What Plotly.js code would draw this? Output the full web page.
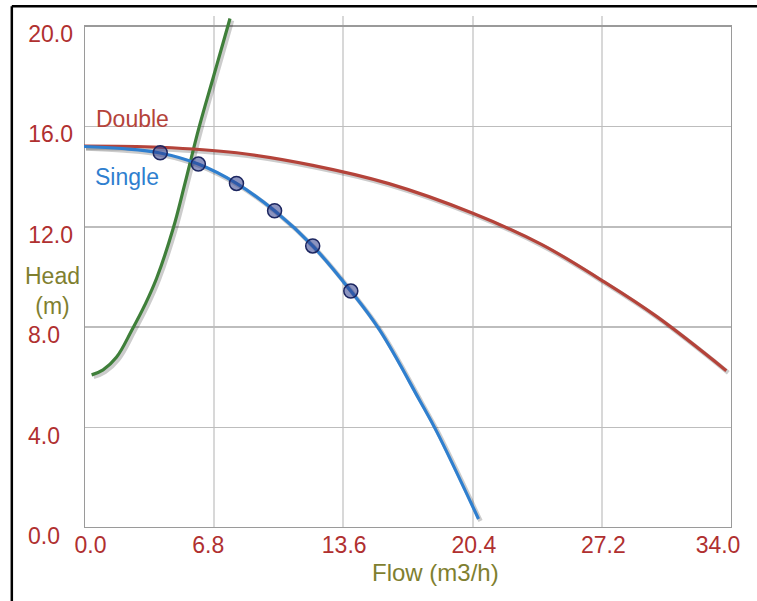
<!DOCTYPE html>
<html><head><meta charset="utf-8">
<script src="https://cdn.plot.ly/plotly-3.0.1.min.js"></script>
<style>html,body{margin:0;padding:0;background:#fff;}#chart{width:757px;height:601px;}</style>
</head><body><div id="chart"></div>
<script>
// Tick labels
const xTickVals = [0, 6.8, 13.6, 20.4, 27.2, 34.0];
const xTickText = ["", "6.8\u00a0\u00a0", "13.6", "20.4", "27.2", ""];
const xEdgeTickVals = [0, 34.0];
const xEdgeTickText = ["0.0", "34.0"];
const yTickVals = [0, 4, 8, 12, 16, 20];
const yTickText = ["", "", "", "12.0", "16.0", "20.0"];
const yShortTickVals = [0, 4, 8];
const yShortTickText = ["0.0", "4.0", "8.0"];

// Single pump curve (flow m3/h, head m)
const singleFlow = [0, 2, 4, 6, 8, 10, 12, 14, 15.5, 17.6, 18.5, 20.7];
const singleHead = [15.2, 15.12, 14.94, 14.5, 13.73, 12.64, 11.24, 9.44, 7.9, 5.1, 3.85, 0.36];
// Measured points on single curve
const pointFlow = [4, 6, 8, 10, 12, 14];
const pointHead = [14.95, 14.5, 13.73, 12.64, 11.24, 9.44];
// Double pump curve
const doubleFlow = [0, 4, 8, 12, 16, 20.4, 24, 27.2, 30, 33.7];
const doubleHead = [15.22, 15.17, 14.95, 14.45, 13.72, 12.54, 11.3, 9.85, 8.45, 6.27];
// System curve
const systemFlow = [0.4, 1.0, 1.7, 2.52, 3.2, 3.81, 4.67, 5.3, 6.03, 6.8, 7.55, 7.66];
const systemHead = [6.1, 6.3, 6.8, 7.9, 8.9, 9.95, 11.91, 13.74, 15.94, 18.0, 20.0, 20.3];

const FONT = "Liberation Sans, Arial, sans-serif";
const RED_TXT = "#b03030", OLIVE = "#7f7f30";
const C_SYS = "#3f7f3a", C_DBL = "#b4433a", C_SGL = "#2f7fcf";

const curves = [
  {x: systemFlow, y: systemHead, c: C_SYS},
  {x: doubleFlow, y: doubleHead, c: C_DBL},
  {x: singleFlow, y: singleHead, c: C_SGL}
];
const traces = [];
curves.forEach(cv => traces.push({x: cv.x, y: cv.y, xaxis: "x2", yaxis: "y2", mode: "lines",
  line: {color: "rgba(0,0,0,0.2)", width: 4.5, shape: "spline", smoothing: 1.1}, hoverinfo: "skip", showlegend: false}));
curves.forEach(cv => traces.push({x: cv.x, y: cv.y, xaxis: "x3", yaxis: "y3", mode: "lines",
  line: {color: cv.c, width: 3.2, shape: "spline", smoothing: 1.1}, showlegend: false}));
traces.push({x: pointFlow, y: pointHead, xaxis: "x3", yaxis: "y3", mode: "markers",
  marker: {size: 14, color: "rgba(45,60,140,0.55)", line: {color: "#1c2660", width: 1.5}}, showlegend: false});
// empty traces so the label-only axes get their own subplots
traces.push({x: [], y: [], xaxis: "x4", yaxis: "y4", mode: "lines", showlegend: false, hoverinfo: "skip"});
traces.push({x: [], y: [], xaxis: "x5", yaxis: "y5", mode: "lines", showlegend: false, hoverinfo: "skip"});

const dx = 2 / 19.06, dy = 2 / 25.1;
// edge label axis: 0 drawn 6.5px right of the plot edge, 34 drawn 14px left of it
const span = 34 * 648 / 627.5, a0 = -6.5 * span / 648;
const tickFont = {family: FONT, size: 23, color: RED_TXT};
const layout = {
  width: 757, height: 601,
  margin: {l: 84, r: 25, t: 16, b: 73},
  paper_bgcolor: "#fff", plot_bgcolor: "#fff",
  font: {family: FONT, size: 23, color: RED_TXT},
  xaxis: {range: [0, 34], tickvals: xTickVals, ticktext: xTickText, ticks: "", showline: false, zeroline: false,
    showgrid: true, gridcolor: "#d8d8d8", gridwidth: 2, tickfont: tickFont, ticklabelstandoff: 1, ticklabelshift: 1, fixedrange: true},
  yaxis: {range: [0, 20.4], tickvals: yTickVals, ticktext: yTickText, ticks: "", showline: false, zeroline: false,
    showgrid: true, gridcolor: "#bdbdbd", gridwidth: 1.5, tickfont: tickFont, ticklabelstandoff: 10,
    ticklabelshift: 8, fixedrange: true},
  xaxis2: {overlaying: "x", range: [-dx, 34 - dx], visible: false, fixedrange: true},
  yaxis2: {overlaying: "y", range: [dy, 20.4 + dy], visible: false, fixedrange: true},
  xaxis3: {overlaying: "x", range: [0, 34], visible: false, fixedrange: true},
  yaxis3: {overlaying: "y", range: [0, 20.4], visible: false, fixedrange: true},
  xaxis4: {overlaying: "x", anchor: "y4", side: "bottom", range: [a0, a0 + span], tickvals: xEdgeTickVals, ticktext: xEdgeTickText,
    ticks: "", showline: false, zeroline: false, showgrid: false, tickfont: tickFont, ticklabelstandoff: 1, fixedrange: true},
  yaxis4: {overlaying: "y", anchor: "x4", range: [0, 20.4], visible: false, fixedrange: true},
  xaxis5: {overlaying: "x", anchor: "y5", range: [0, 34], visible: false, fixedrange: true},
  yaxis5: {overlaying: "y", anchor: "x5", side: "left", range: [0, 20.4], tickvals: yShortTickVals, ticktext: yShortTickText,
    ticks: "", showline: false, zeroline: false, showgrid: false, tickfont: tickFont, ticklabelstandoff: 23,
    ticklabelshift: 8, fixedrange: true},
  shapes: [
    {type: "rect", xref: "paper", yref: "y", x0: -0.01, x1: 1.01, y0: 20.02, y1: 20.6, fillcolor: "#fff", line: {width: 0}, layer: "between"},
    {type: "rect", xref: "x", yref: "y", x0: 0, x1: 34, y0: 0, y1: 20, line: {color: "#9a9a9a", width: 2}, layer: "between"},
    {type: "line", xref: "paper", yref: "paper", x0: -0.1114, x1: -0.1114, y0: -0.2, y1: 1.0191, line: {color: "#000", width: 2.5}},
    {type: "line", xref: "paper", yref: "paper", x0: -0.1114, x1: 1.1, y0: 1.0191, y1: 1.0191, line: {color: "#000", width: 2.5}}
  ],
  annotations: [
    {text: "Double", xref: "x", yref: "y", x: 0.5, y: 16.3, xanchor: "left", yanchor: "middle", showarrow: false,
      font: {family: FONT, size: 23, color: C_DBL}},
    {text: "Single", xref: "x", yref: "y", x: 0.45, y: 13.98, xanchor: "left", yanchor: "middle", showarrow: false,
      font: {family: FONT, size: 23, color: C_SGL}},
    {text: "Flow (m3/h)", xref: "paper", yref: "paper", x: 0.543, y: -0.086, xanchor: "center", yanchor: "middle", showarrow: false,
      font: {family: FONT, size: 24, color: OLIVE}},
    {text: "Head<br>(m)", xref: "paper", yref: "paper", x: -0.049, y: 0.463, xanchor: "center", yanchor: "middle", align: "center", showarrow: false,
      font: {family: FONT, size: 23, color: OLIVE}}
  ]
};
Plotly.newPlot("chart", traces, layout, {staticPlot: true, displayModeBar: false});
</script></body></html>
